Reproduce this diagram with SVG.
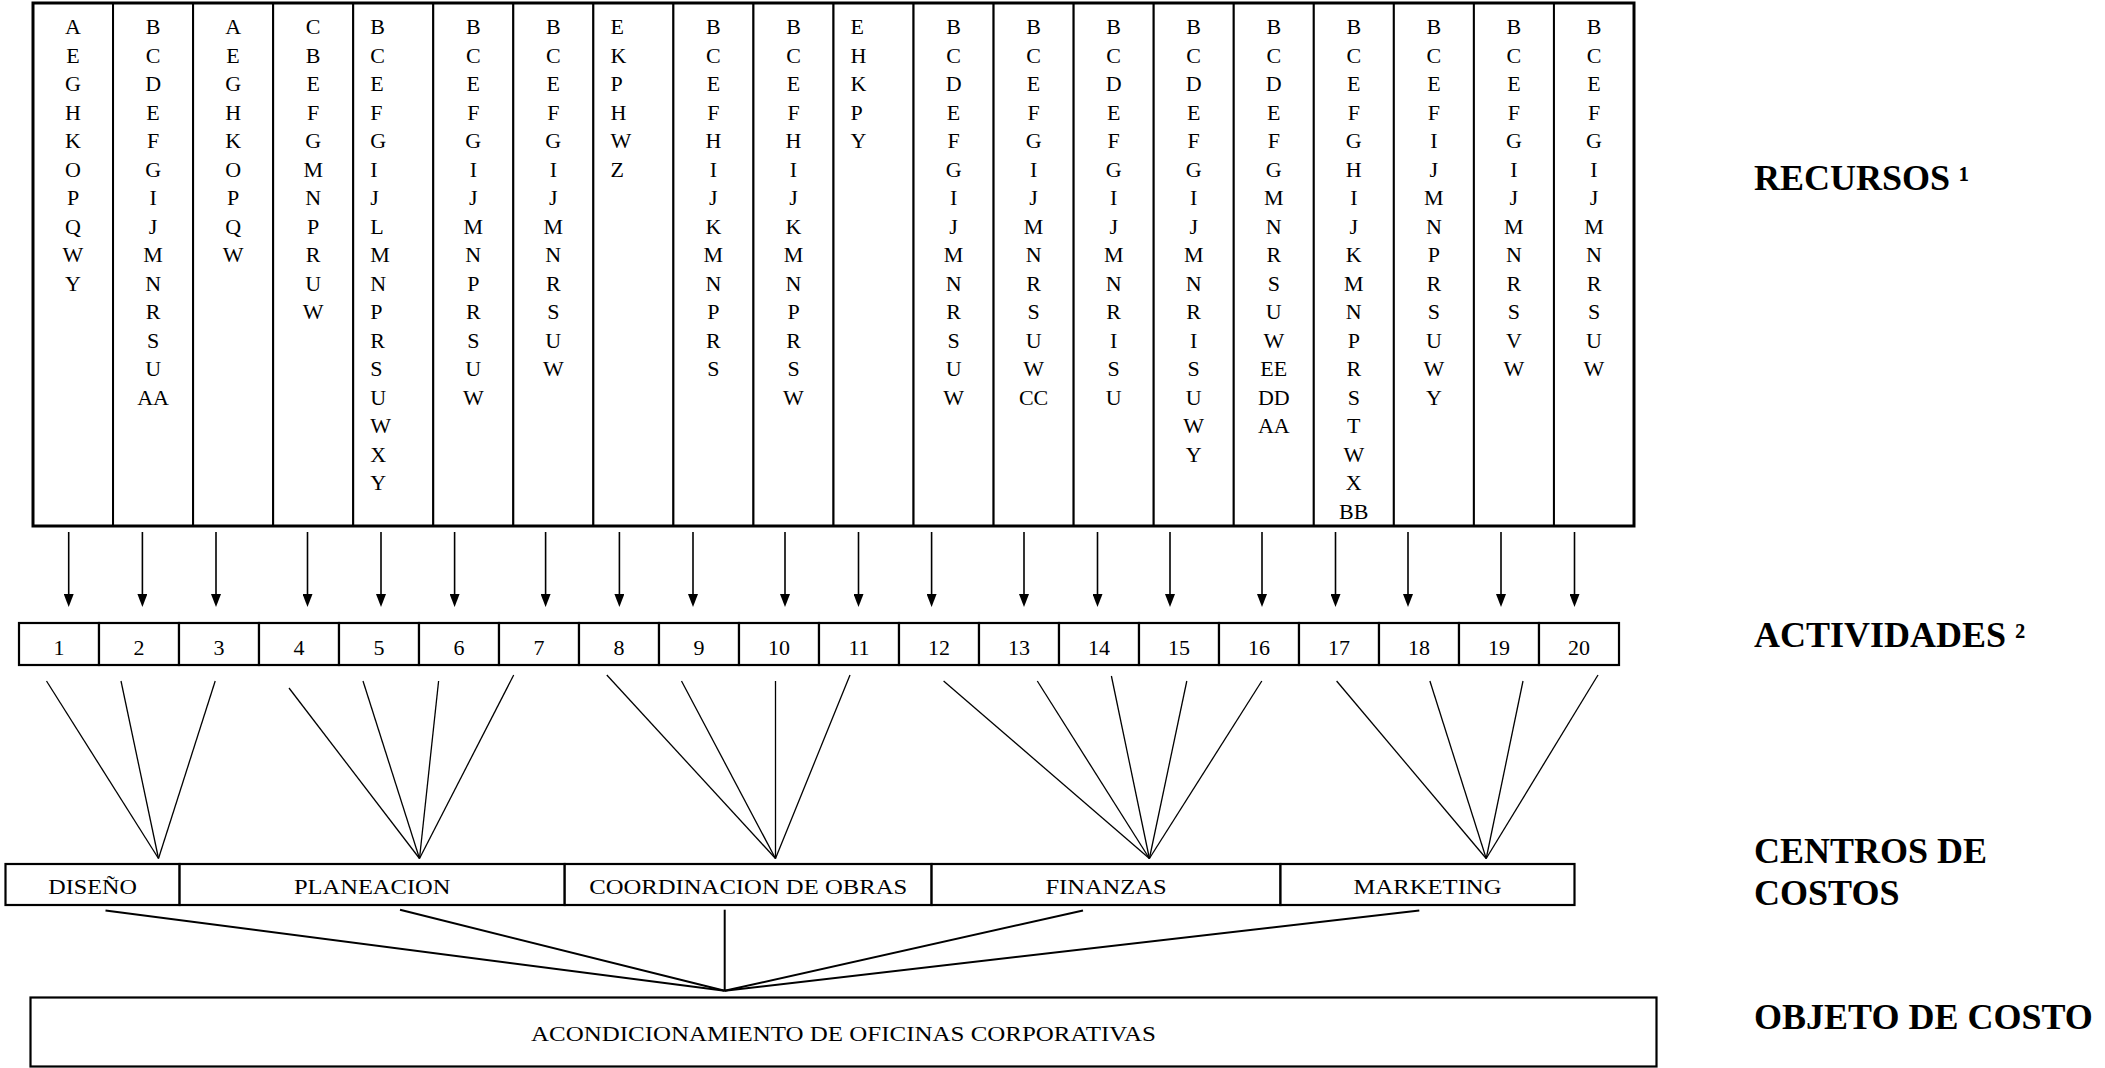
<svg xmlns="http://www.w3.org/2000/svg" width="2105" height="1068" viewBox="0 0 2105 1068">
<defs>
<style>
text{font-family:"Liberation Serif","Times New Roman",serif;fill:#000}
.l{font-size:22px;text-anchor:middle}
.ls{font-size:22px;text-anchor:start}
.n{font-size:22px;text-anchor:middle}
.h{font-size:36px;font-weight:bold}
.sup{font-size:34px}
.col{fill:#fff;stroke:#000;stroke-width:2}
.box{fill:#fff;stroke:#000;stroke-width:2.2}
.frame{fill:none;stroke:#000;stroke-width:3}
.arr{stroke:#000;stroke-width:1.6;fill:none}
.fan{stroke:#000;stroke-width:1.3;fill:none}
.agg{stroke:#000;stroke-width:2;fill:none}
</style>
<marker id="ah" viewBox="0 0 13 10" refX="9" refY="5" markerWidth="13" markerHeight="10" markerUnits="userSpaceOnUse" orient="auto">
<path d="M0,0 L13,5 L0,10 Z" fill="#000"/>
</marker>
</defs>
<rect width="2105" height="1068" fill="#fff"/>

<g id="recursos">
<g id="r1"><rect class="col" x="33" y="3" width="80.05" height="523"/><text class="l" x="73" y="34.4">A<tspan x="73" dy="28.5">E</tspan><tspan x="73" dy="28.5">G</tspan><tspan x="73" dy="28.5">H</tspan><tspan x="73" dy="28.5">K</tspan><tspan x="73" dy="28.5">O</tspan><tspan x="73" dy="28.5">P</tspan><tspan x="73" dy="28.5">Q</tspan><tspan x="73" dy="28.5">W</tspan><tspan x="73" dy="28.5">Y</tspan></text></g>
<g id="r2"><rect class="col" x="113.05" y="3" width="80.05" height="523"/><text class="l" x="153.1" y="34.4">B<tspan x="153.1" dy="28.5">C</tspan><tspan x="153.1" dy="28.5">D</tspan><tspan x="153.1" dy="28.5">E</tspan><tspan x="153.1" dy="28.5">F</tspan><tspan x="153.1" dy="28.5">G</tspan><tspan x="153.1" dy="28.5">I</tspan><tspan x="153.1" dy="28.5">J</tspan><tspan x="153.1" dy="28.5">M</tspan><tspan x="153.1" dy="28.5">N</tspan><tspan x="153.1" dy="28.5">R</tspan><tspan x="153.1" dy="28.5">S</tspan><tspan x="153.1" dy="28.5">U</tspan><tspan x="153.1" dy="28.5">AA</tspan></text></g>
<g id="r3"><rect class="col" x="193.1" y="3" width="80.05" height="523"/><text class="l" x="233.1" y="34.4">A<tspan x="233.1" dy="28.5">E</tspan><tspan x="233.1" dy="28.5">G</tspan><tspan x="233.1" dy="28.5">H</tspan><tspan x="233.1" dy="28.5">K</tspan><tspan x="233.1" dy="28.5">O</tspan><tspan x="233.1" dy="28.5">P</tspan><tspan x="233.1" dy="28.5">Q</tspan><tspan x="233.1" dy="28.5">W</tspan></text></g>
<g id="r4"><rect class="col" x="273.15" y="3" width="80.05" height="523"/><text class="l" x="313.2" y="34.4">C<tspan x="313.2" dy="28.5">B</tspan><tspan x="313.2" dy="28.5">E</tspan><tspan x="313.2" dy="28.5">F</tspan><tspan x="313.2" dy="28.5">G</tspan><tspan x="313.2" dy="28.5">M</tspan><tspan x="313.2" dy="28.5">N</tspan><tspan x="313.2" dy="28.5">P</tspan><tspan x="313.2" dy="28.5">R</tspan><tspan x="313.2" dy="28.5">U</tspan><tspan x="313.2" dy="28.5">W</tspan></text></g>
<g id="r5"><rect class="col" x="353.2" y="3" width="80.05" height="523"/><text class="ls" x="370.2" y="34.4">B<tspan x="370.2" dy="28.5">C</tspan><tspan x="370.2" dy="28.5">E</tspan><tspan x="370.2" dy="28.5">F</tspan><tspan x="370.2" dy="28.5">G</tspan><tspan x="370.2" dy="28.5">I</tspan><tspan x="370.2" dy="28.5">J</tspan><tspan x="370.2" dy="28.5">L</tspan><tspan x="370.2" dy="28.5">M</tspan><tspan x="370.2" dy="28.5">N</tspan><tspan x="370.2" dy="28.5">P</tspan><tspan x="370.2" dy="28.5">R</tspan><tspan x="370.2" dy="28.5">S</tspan><tspan x="370.2" dy="28.5">U</tspan><tspan x="370.2" dy="28.5">W</tspan><tspan x="370.2" dy="28.5">X</tspan><tspan x="370.2" dy="28.5">Y</tspan></text></g>
<g id="r6"><rect class="col" x="433.25" y="3" width="80.05" height="523"/><text class="l" x="473.3" y="34.4">B<tspan x="473.3" dy="28.5">C</tspan><tspan x="473.3" dy="28.5">E</tspan><tspan x="473.3" dy="28.5">F</tspan><tspan x="473.3" dy="28.5">G</tspan><tspan x="473.3" dy="28.5">I</tspan><tspan x="473.3" dy="28.5">J</tspan><tspan x="473.3" dy="28.5">M</tspan><tspan x="473.3" dy="28.5">N</tspan><tspan x="473.3" dy="28.5">P</tspan><tspan x="473.3" dy="28.5">R</tspan><tspan x="473.3" dy="28.5">S</tspan><tspan x="473.3" dy="28.5">U</tspan><tspan x="473.3" dy="28.5">W</tspan></text></g>
<g id="r7"><rect class="col" x="513.3" y="3" width="80.05" height="523"/><text class="l" x="553.3" y="34.4">B<tspan x="553.3" dy="28.5">C</tspan><tspan x="553.3" dy="28.5">E</tspan><tspan x="553.3" dy="28.5">F</tspan><tspan x="553.3" dy="28.5">G</tspan><tspan x="553.3" dy="28.5">I</tspan><tspan x="553.3" dy="28.5">J</tspan><tspan x="553.3" dy="28.5">M</tspan><tspan x="553.3" dy="28.5">N</tspan><tspan x="553.3" dy="28.5">R</tspan><tspan x="553.3" dy="28.5">S</tspan><tspan x="553.3" dy="28.5">U</tspan><tspan x="553.3" dy="28.5">W</tspan></text></g>
<g id="r8"><rect class="col" x="593.35" y="3" width="80.05" height="523"/><text class="ls" x="610.4" y="34.4">E<tspan x="610.4" dy="28.5">K</tspan><tspan x="610.4" dy="28.5">P</tspan><tspan x="610.4" dy="28.5">H</tspan><tspan x="610.4" dy="28.5">W</tspan><tspan x="610.4" dy="28.5">Z</tspan></text></g>
<g id="r9"><rect class="col" x="673.4" y="3" width="80.05" height="523"/><text class="l" x="713.4" y="34.4">B<tspan x="713.4" dy="28.5">C</tspan><tspan x="713.4" dy="28.5">E</tspan><tspan x="713.4" dy="28.5">F</tspan><tspan x="713.4" dy="28.5">H</tspan><tspan x="713.4" dy="28.5">I</tspan><tspan x="713.4" dy="28.5">J</tspan><tspan x="713.4" dy="28.5">K</tspan><tspan x="713.4" dy="28.5">M</tspan><tspan x="713.4" dy="28.5">N</tspan><tspan x="713.4" dy="28.5">P</tspan><tspan x="713.4" dy="28.5">R</tspan><tspan x="713.4" dy="28.5">S</tspan></text></g>
<g id="r10"><rect class="col" x="753.45" y="3" width="80.05" height="523"/><text class="l" x="793.5" y="34.4">B<tspan x="793.5" dy="28.5">C</tspan><tspan x="793.5" dy="28.5">E</tspan><tspan x="793.5" dy="28.5">F</tspan><tspan x="793.5" dy="28.5">H</tspan><tspan x="793.5" dy="28.5">I</tspan><tspan x="793.5" dy="28.5">J</tspan><tspan x="793.5" dy="28.5">K</tspan><tspan x="793.5" dy="28.5">M</tspan><tspan x="793.5" dy="28.5">N</tspan><tspan x="793.5" dy="28.5">P</tspan><tspan x="793.5" dy="28.5">R</tspan><tspan x="793.5" dy="28.5">S</tspan><tspan x="793.5" dy="28.5">W</tspan></text></g>
<g id="r11"><rect class="col" x="833.5" y="3" width="80.05" height="523"/><text class="ls" x="850.5" y="34.4">E<tspan x="850.5" dy="28.5">H</tspan><tspan x="850.5" dy="28.5">K</tspan><tspan x="850.5" dy="28.5">P</tspan><tspan x="850.5" dy="28.5">Y</tspan></text></g>
<g id="r12"><rect class="col" x="913.55" y="3" width="80.05" height="523"/><text class="l" x="953.6" y="34.4">B<tspan x="953.6" dy="28.5">C</tspan><tspan x="953.6" dy="28.5">D</tspan><tspan x="953.6" dy="28.5">E</tspan><tspan x="953.6" dy="28.5">F</tspan><tspan x="953.6" dy="28.5">G</tspan><tspan x="953.6" dy="28.5">I</tspan><tspan x="953.6" dy="28.5">J</tspan><tspan x="953.6" dy="28.5">M</tspan><tspan x="953.6" dy="28.5">N</tspan><tspan x="953.6" dy="28.5">R</tspan><tspan x="953.6" dy="28.5">S</tspan><tspan x="953.6" dy="28.5">U</tspan><tspan x="953.6" dy="28.5">W</tspan></text></g>
<g id="r13"><rect class="col" x="993.6" y="3" width="80.05" height="523"/><text class="l" x="1033.6" y="34.4">B<tspan x="1033.6" dy="28.5">C</tspan><tspan x="1033.6" dy="28.5">E</tspan><tspan x="1033.6" dy="28.5">F</tspan><tspan x="1033.6" dy="28.5">G</tspan><tspan x="1033.6" dy="28.5">I</tspan><tspan x="1033.6" dy="28.5">J</tspan><tspan x="1033.6" dy="28.5">M</tspan><tspan x="1033.6" dy="28.5">N</tspan><tspan x="1033.6" dy="28.5">R</tspan><tspan x="1033.6" dy="28.5">S</tspan><tspan x="1033.6" dy="28.5">U</tspan><tspan x="1033.6" dy="28.5">W</tspan><tspan x="1033.6" dy="28.5">CC</tspan></text></g>
<g id="r14"><rect class="col" x="1073.65" y="3" width="80.05" height="523"/><text class="l" x="1113.7" y="34.4">B<tspan x="1113.7" dy="28.5">C</tspan><tspan x="1113.7" dy="28.5">D</tspan><tspan x="1113.7" dy="28.5">E</tspan><tspan x="1113.7" dy="28.5">F</tspan><tspan x="1113.7" dy="28.5">G</tspan><tspan x="1113.7" dy="28.5">I</tspan><tspan x="1113.7" dy="28.5">J</tspan><tspan x="1113.7" dy="28.5">M</tspan><tspan x="1113.7" dy="28.5">N</tspan><tspan x="1113.7" dy="28.5">R</tspan><tspan x="1113.7" dy="28.5">I</tspan><tspan x="1113.7" dy="28.5">S</tspan><tspan x="1113.7" dy="28.5">U</tspan></text></g>
<g id="r15"><rect class="col" x="1153.7" y="3" width="80.05" height="523"/><text class="l" x="1193.7" y="34.4">B<tspan x="1193.7" dy="28.5">C</tspan><tspan x="1193.7" dy="28.5">D</tspan><tspan x="1193.7" dy="28.5">E</tspan><tspan x="1193.7" dy="28.5">F</tspan><tspan x="1193.7" dy="28.5">G</tspan><tspan x="1193.7" dy="28.5">I</tspan><tspan x="1193.7" dy="28.5">J</tspan><tspan x="1193.7" dy="28.5">M</tspan><tspan x="1193.7" dy="28.5">N</tspan><tspan x="1193.7" dy="28.5">R</tspan><tspan x="1193.7" dy="28.5">I</tspan><tspan x="1193.7" dy="28.5">S</tspan><tspan x="1193.7" dy="28.5">U</tspan><tspan x="1193.7" dy="28.5">W</tspan><tspan x="1193.7" dy="28.5">Y</tspan></text></g>
<g id="r16"><rect class="col" x="1233.75" y="3" width="80.05" height="523"/><text class="l" x="1273.8" y="34.4">B<tspan x="1273.8" dy="28.5">C</tspan><tspan x="1273.8" dy="28.5">D</tspan><tspan x="1273.8" dy="28.5">E</tspan><tspan x="1273.8" dy="28.5">F</tspan><tspan x="1273.8" dy="28.5">G</tspan><tspan x="1273.8" dy="28.5">M</tspan><tspan x="1273.8" dy="28.5">N</tspan><tspan x="1273.8" dy="28.5">R</tspan><tspan x="1273.8" dy="28.5">S</tspan><tspan x="1273.8" dy="28.5">U</tspan><tspan x="1273.8" dy="28.5">W</tspan><tspan x="1273.8" dy="28.5">EE</tspan><tspan x="1273.8" dy="28.5">DD</tspan><tspan x="1273.8" dy="28.5">AA</tspan></text></g>
<g id="r17"><rect class="col" x="1313.8" y="3" width="80.05" height="523"/><text class="l" x="1353.8" y="34.4">B<tspan x="1353.8" dy="28.5">C</tspan><tspan x="1353.8" dy="28.5">E</tspan><tspan x="1353.8" dy="28.5">F</tspan><tspan x="1353.8" dy="28.5">G</tspan><tspan x="1353.8" dy="28.5">H</tspan><tspan x="1353.8" dy="28.5">I</tspan><tspan x="1353.8" dy="28.5">J</tspan><tspan x="1353.8" dy="28.5">K</tspan><tspan x="1353.8" dy="28.5">M</tspan><tspan x="1353.8" dy="28.5">N</tspan><tspan x="1353.8" dy="28.5">P</tspan><tspan x="1353.8" dy="28.5">R</tspan><tspan x="1353.8" dy="28.5">S</tspan><tspan x="1353.8" dy="28.5">T</tspan><tspan x="1353.8" dy="28.5">W</tspan><tspan x="1353.8" dy="28.5">X</tspan><tspan x="1353.8" dy="28.5">BB</tspan></text></g>
<g id="r18"><rect class="col" x="1393.85" y="3" width="80.05" height="523"/><text class="l" x="1433.9" y="34.4">B<tspan x="1433.9" dy="28.5">C</tspan><tspan x="1433.9" dy="28.5">E</tspan><tspan x="1433.9" dy="28.5">F</tspan><tspan x="1433.9" dy="28.5">I</tspan><tspan x="1433.9" dy="28.5">J</tspan><tspan x="1433.9" dy="28.5">M</tspan><tspan x="1433.9" dy="28.5">N</tspan><tspan x="1433.9" dy="28.5">P</tspan><tspan x="1433.9" dy="28.5">R</tspan><tspan x="1433.9" dy="28.5">S</tspan><tspan x="1433.9" dy="28.5">U</tspan><tspan x="1433.9" dy="28.5">W</tspan><tspan x="1433.9" dy="28.5">Y</tspan></text></g>
<g id="r19"><rect class="col" x="1473.9" y="3" width="80.05" height="523"/><text class="l" x="1513.9" y="34.4">B<tspan x="1513.9" dy="28.5">C</tspan><tspan x="1513.9" dy="28.5">E</tspan><tspan x="1513.9" dy="28.5">F</tspan><tspan x="1513.9" dy="28.5">G</tspan><tspan x="1513.9" dy="28.5">I</tspan><tspan x="1513.9" dy="28.5">J</tspan><tspan x="1513.9" dy="28.5">M</tspan><tspan x="1513.9" dy="28.5">N</tspan><tspan x="1513.9" dy="28.5">R</tspan><tspan x="1513.9" dy="28.5">S</tspan><tspan x="1513.9" dy="28.5">V</tspan><tspan x="1513.9" dy="28.5">W</tspan></text></g>
<g id="r20"><rect class="col" x="1553.95" y="3" width="80.05" height="523"/><text class="l" x="1594" y="34.4">B<tspan x="1594" dy="28.5">C</tspan><tspan x="1594" dy="28.5">E</tspan><tspan x="1594" dy="28.5">F</tspan><tspan x="1594" dy="28.5">G</tspan><tspan x="1594" dy="28.5">I</tspan><tspan x="1594" dy="28.5">J</tspan><tspan x="1594" dy="28.5">M</tspan><tspan x="1594" dy="28.5">N</tspan><tspan x="1594" dy="28.5">R</tspan><tspan x="1594" dy="28.5">S</tspan><tspan x="1594" dy="28.5">U</tspan><tspan x="1594" dy="28.5">W</tspan></text></g>
<rect class="frame" x="33" y="3" width="1601" height="523"/>
</g>

<g id="actividades">
<g id="a1"><rect class="box" x="19" y="623" width="80" height="42"/><text class="n" x="59" y="655">1</text></g>
<g id="a2"><rect class="box" x="99" y="623" width="80" height="42"/><text class="n" x="139" y="655">2</text></g>
<g id="a3"><rect class="box" x="179" y="623" width="80" height="42"/><text class="n" x="219" y="655">3</text></g>
<g id="a4"><rect class="box" x="259" y="623" width="80" height="42"/><text class="n" x="299" y="655">4</text></g>
<g id="a5"><rect class="box" x="339" y="623" width="80" height="42"/><text class="n" x="379" y="655">5</text></g>
<g id="a6"><rect class="box" x="419" y="623" width="80" height="42"/><text class="n" x="459" y="655">6</text></g>
<g id="a7"><rect class="box" x="499" y="623" width="80" height="42"/><text class="n" x="539" y="655">7</text></g>
<g id="a8"><rect class="box" x="579" y="623" width="80" height="42"/><text class="n" x="619" y="655">8</text></g>
<g id="a9"><rect class="box" x="659" y="623" width="80" height="42"/><text class="n" x="699" y="655">9</text></g>
<g id="a10"><rect class="box" x="739" y="623" width="80" height="42"/><text class="n" x="779" y="655">10</text></g>
<g id="a11"><rect class="box" x="819" y="623" width="80" height="42"/><text class="n" x="859" y="655">11</text></g>
<g id="a12"><rect class="box" x="899" y="623" width="80" height="42"/><text class="n" x="939" y="655">12</text></g>
<g id="a13"><rect class="box" x="979" y="623" width="80" height="42"/><text class="n" x="1019" y="655">13</text></g>
<g id="a14"><rect class="box" x="1059" y="623" width="80" height="42"/><text class="n" x="1099" y="655">14</text></g>
<g id="a15"><rect class="box" x="1139" y="623" width="80" height="42"/><text class="n" x="1179" y="655">15</text></g>
<g id="a16"><rect class="box" x="1219" y="623" width="80" height="42"/><text class="n" x="1259" y="655">16</text></g>
<g id="a17"><rect class="box" x="1299" y="623" width="80" height="42"/><text class="n" x="1339" y="655">17</text></g>
<g id="a18"><rect class="box" x="1379" y="623" width="80" height="42"/><text class="n" x="1419" y="655">18</text></g>
<g id="a19"><rect class="box" x="1459" y="623" width="80" height="42"/><text class="n" x="1499" y="655">19</text></g>
<g id="a20"><rect class="box" x="1539" y="623" width="80" height="42"/><text class="n" x="1579" y="655">20</text></g>
</g>

<g id="centros">
<g id="c-diseno"><rect class="box" x="5.5" y="864" width="174.1" height="41"/><text class="n" x="92.6" y="894.3" textLength="88.5" lengthAdjust="spacingAndGlyphs">DISEÑO</text></g>
<g id="c-planeacion"><rect class="box" x="179.6" y="864" width="385.1" height="41"/><text class="n" x="372.2" y="894.3" textLength="156.5" lengthAdjust="spacingAndGlyphs">PLANEACION</text></g>
<g id="c-coordinacion"><rect class="box" x="564.7" y="864" width="366.9" height="41"/><text class="n" x="748.2" y="894.3" textLength="318" lengthAdjust="spacingAndGlyphs">COORDINACION DE OBRAS</text></g>
<g id="c-finanzas"><rect class="box" x="931.6" y="864" width="348.9" height="41"/><text class="n" x="1106" y="894.3" textLength="121" lengthAdjust="spacingAndGlyphs">FINANZAS</text></g>
<g id="c-marketing"><rect class="box" x="1280.5" y="864" width="294" height="41"/><text class="n" x="1427.5" y="894.3" textLength="148" lengthAdjust="spacingAndGlyphs">MARKETING</text></g>
</g>

<g id="objeto">
<rect class="box" x="30.5" y="997.5" width="1626" height="69"/>
<text class="n" x="843.5" y="1041" textLength="625" lengthAdjust="spacingAndGlyphs">ACONDICIONAMIENTO DE OFICINAS CORPORATIVAS</text>
</g>

<g id="etiquetas">
<text class="h" x="1754" y="190">RECURSOS <tspan class="sup">¹</tspan></text>
<text class="h" x="1754" y="646.7">ACTIVIDADES <tspan class="sup">²</tspan></text>
<text class="h" x="1754" y="862.5">CENTROS DE<tspan x="1754" y="905">COSTOS</tspan></text>
<text class="h" x="1754" y="1028.5">OBJETO DE COSTO</text>
</g>

<g id="connectors">
<g id="flechas" class="arr" marker-end="url(#ah)">
<line x1="68.7" y1="532" x2="68.7" y2="603"/>
<line x1="142.4" y1="532" x2="142.4" y2="603"/>
<line x1="216" y1="532" x2="216" y2="603"/>
<line x1="307.5" y1="532" x2="307.5" y2="603"/>
<line x1="381" y1="532" x2="381" y2="603"/>
<line x1="454.6" y1="532" x2="454.6" y2="603"/>
<line x1="545.6" y1="532" x2="545.6" y2="603"/>
<line x1="619.4" y1="532" x2="619.4" y2="603"/>
<line x1="693" y1="532" x2="693" y2="603"/>
<line x1="785" y1="532" x2="785" y2="603"/>
<line x1="858.5" y1="532" x2="858.5" y2="603"/>
<line x1="931.6" y1="532" x2="931.6" y2="603"/>
<line x1="1024" y1="532" x2="1024" y2="603"/>
<line x1="1097.5" y1="532" x2="1097.5" y2="603"/>
<line x1="1170" y1="532" x2="1170" y2="603"/>
<line x1="1262" y1="532" x2="1262" y2="603"/>
<line x1="1335.5" y1="532" x2="1335.5" y2="603"/>
<line x1="1408" y1="532" x2="1408" y2="603"/>
<line x1="1501" y1="532" x2="1501" y2="603"/>
<line x1="1574.5" y1="532" x2="1574.5" y2="603"/>
</g>
<g id="fan-diseno" class="fan">
<line x1="46.5" y1="681" x2="158.5" y2="858.5"/>
<line x1="121" y1="681" x2="158.5" y2="858.5"/>
<line x1="215.2" y1="681" x2="158.5" y2="858.5"/>
</g>
<g id="fan-planeacion" class="fan">
<line x1="289" y1="688" x2="419.5" y2="858.5"/>
<line x1="363" y1="681" x2="419.5" y2="858.5"/>
<line x1="438.6" y1="681" x2="419.5" y2="858.5"/>
<line x1="513.7" y1="675" x2="419.5" y2="858.5"/>
</g>
<g id="fan-coordinacion" class="fan">
<line x1="606.8" y1="675" x2="775.5" y2="858.5"/>
<line x1="681.5" y1="681" x2="775.5" y2="858.5"/>
<line x1="775.5" y1="681" x2="775.5" y2="858.5"/>
<line x1="850" y1="675" x2="775.5" y2="858.5"/>
</g>
<g id="fan-finanzas" class="fan">
<line x1="943.6" y1="681" x2="1149.4" y2="858.5"/>
<line x1="1037.3" y1="681" x2="1149.4" y2="858.5"/>
<line x1="1111.4" y1="676" x2="1149.4" y2="858.5"/>
<line x1="1186.8" y1="681" x2="1149.4" y2="858.5"/>
<line x1="1261.8" y1="681" x2="1149.4" y2="858.5"/>
</g>
<g id="fan-marketing" class="fan">
<line x1="1336.6" y1="681" x2="1486.2" y2="858.5"/>
<line x1="1429.9" y1="681" x2="1486.2" y2="858.5"/>
<line x1="1523" y1="681" x2="1486.2" y2="858.5"/>
<line x1="1598" y1="675" x2="1486.2" y2="858.5"/>
</g>
<g id="hacia-objeto" class="agg">
<line x1="105.5" y1="910.4" x2="724.7" y2="990.8"/>
<line x1="400" y1="909.7" x2="724.7" y2="990.8"/>
<line x1="724.7" y1="909.7" x2="724.7" y2="990.8"/>
<line x1="1083" y1="910.4" x2="724.7" y2="990.8"/>
<line x1="1419.3" y1="910.4" x2="724.7" y2="990.8"/>
</g>
</g>
</svg>
